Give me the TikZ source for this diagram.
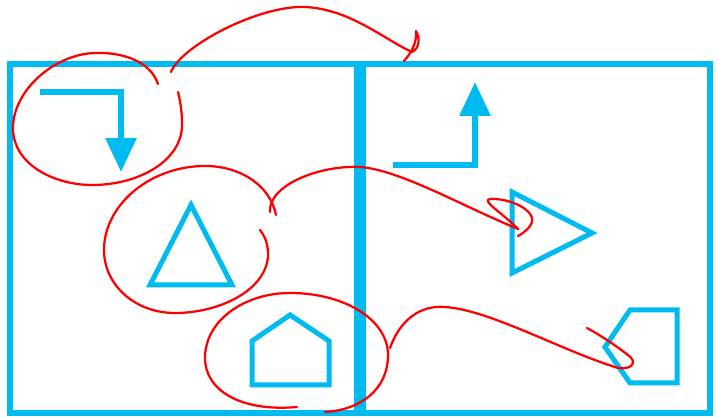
\documentclass[tikz,border=0pt]{standalone}
\usetikzlibrary{arrows.meta}
\definecolor{shapeblue}{RGB}{0,187,240}
\begin{document}
\begin{tikzpicture}[x=0.02cm, y=-0.02cm, line join=miter,
        panel/.style={draw=shapeblue, line width=0.13cm},
        figline/.style={draw=shapeblue, line width=0.1cm},
        bent/.style={draw=shapeblue, line width=0.12cm, -{Triangle[length=0.68cm, width=0.6cm]}},
        ink/.style={draw=red, line width=0.045cm, line cap=round, line join=round}]
    \useasboundingbox (0,0) rectangle (718,418);
    % the two panels
    \draw[panel] (10,64) rectangle (357.5,413);
    \draw[panel] (362.5,64) rectangle (710,413);
    % left panel
    \coordinate (la1) at (40,92);
    \coordinate (la2) at (121,92);
    \coordinate (la3) at (121,172);
    \draw[bent] (la1) -- (la2) -- (la3);
    \draw[figline] (150,285) -- (191,205) -- (232,285) -- cycle;
    \draw[figline] (252,385) -- (252,341) -- (290,315) -- (329,341) -- (329,385) -- cycle;
    % right panel
    \coordinate (ra1) at (393,165);
    \coordinate (ra2) at (475,165);
    \coordinate (ra3) at (475,82);
    \draw[bent] (ra1) -- (ra2) -- (ra3);
    \draw[figline] (512,192) -- (592,233) -- (512,273) -- cycle;
    \draw[figline] (630,310) -- (677,310) -- (677,383) -- (630,383) -- (605,347) -- cycle;
    % red marks
    \draw[ink] (158,84) .. controls (150,60) and (120,52) .. (95,53)
        .. controls (55,54) and (13,90) .. (13,128)
        .. controls (13,165) and (55,185) .. (92,185)
        .. controls (140,185) and (182,160) .. (182,125)
        .. controls (182,110) and (180,100) .. (178,92);
    \coordinate (h1) at (412,52);
    \draw[ink] (171,72) .. controls (182,45) and (260,5) .. (305,7) .. controls (350,9) and (385,40) .. (h1);
    \draw[ink] (h1) .. controls (420,48) and (420,38) .. (416,31) .. controls (417,42) and (412,52) .. (404,61);
    \draw[ink] (260,230) .. controls (268,240) and (268,250) .. (268,256)
        .. controls (266,290) and (220,313) .. (175,313)
        .. controls (135,313) and (104,285) .. (104,250)
        .. controls (104,205) and (150,166) .. (205,166)
        .. controls (240,166) and (270,185) .. (276,215);
    \coordinate (h2) at (518,229);
    \draw[ink] (270,212) .. controls (268,185) and (320,165) .. (360,167) .. controls (400,170) and (460,205) .. (h2);
    \draw[ink] (h2) .. controls (505,215) and (480,200) .. (490,199) .. controls (510,198) and (535,210) .. (532,222) .. controls (530,228) and (525,232) .. (518,236);
    \draw[ink] (297,407) .. controls (240,412) and (205,390) .. (205,358)
        .. controls (205,320) and (245,293) .. (290,293)
        .. controls (345,293) and (388,320) .. (388,355)
        .. controls (388,390) and (360,410) .. (325,412);
    \coordinate (h3) at (618,368);
    \draw[ink] (390,348) .. controls (400,320) and (420,305) .. (445,307) .. controls (490,310) and (560,350) .. (h3);
    \draw[ink] (h3) .. controls (632,370) and (638,362) .. (628,355) .. controls (615,345) and (600,335) .. (587,328);
\end{tikzpicture}
\end{document}
